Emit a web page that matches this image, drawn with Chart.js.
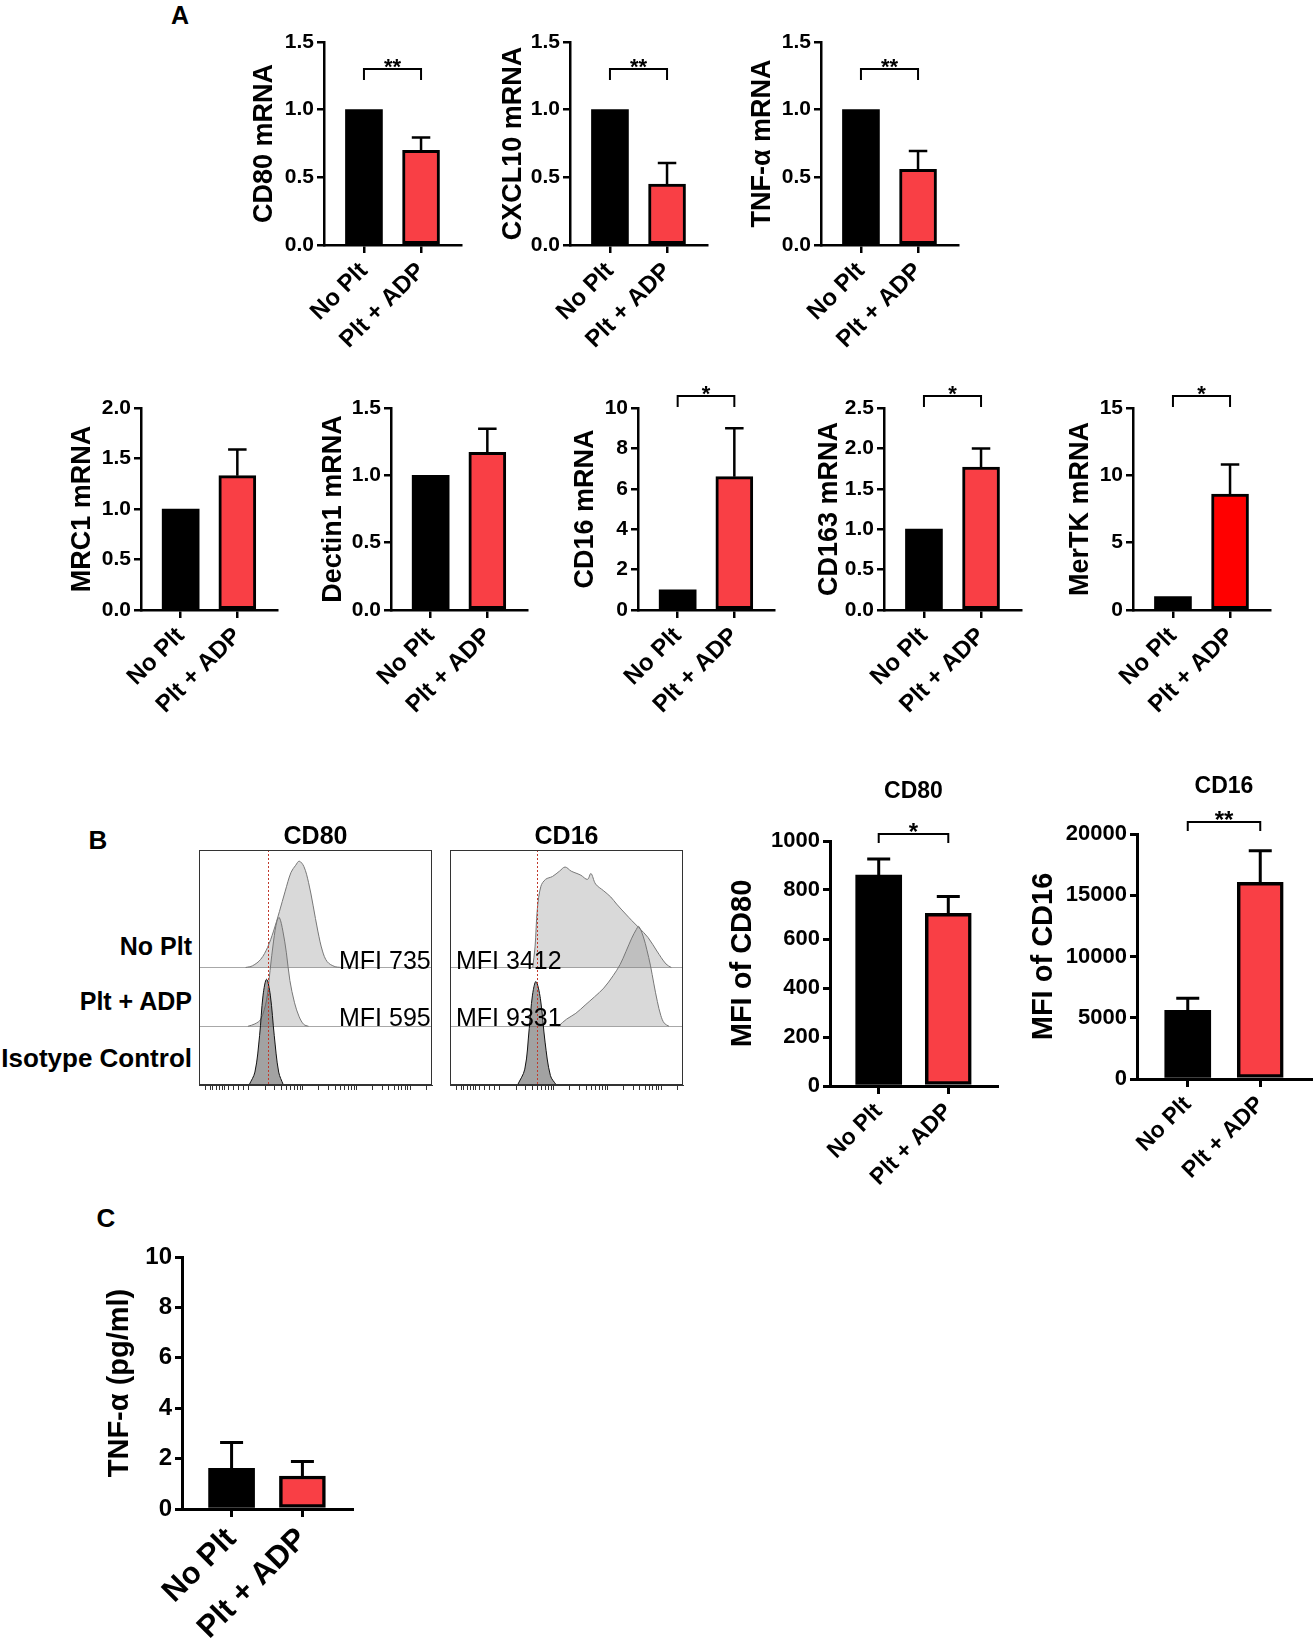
<!DOCTYPE html>
<html>
<head>
<meta charset="utf-8">
<title>Platelet + ADP macrophage markers</title>
<script src="https://cdn.jsdelivr.net/npm/chart.js@4.4.1/dist/chart.umd.min.js"></script>
<style>
body{margin:0;background:#fff;}
#fig{position:relative;width:1313px;height:1644px;overflow:hidden;font-family:'Liberation Sans',Arial,sans-serif;}
#fig canvas{position:absolute;}
.lab{position:absolute;white-space:nowrap;line-height:1;color:#000;}
</style>
</head>
<body>
<div id="fig"></div>
<script>
// ---------- values ----------
var groups = ['No Plt', 'Plt + ADP'];

// A - relative mRNA, No Plt normalised to 1
var geneTitles = ['CD80 mRNA', 'CXCL10 mRNA', 'TNF-α mRNA', 'MRC1 mRNA', 'Dectin1 mRNA', 'CD16 mRNA', 'CD163 mRNA', 'MerTK mRNA'];
var geneNoPlt = [1, 1, 1, 1, 1, 1, 1, 1];
var genePltAdp = [0.70, 0.45, 0.56, 1.33, 1.17, 6.6, 1.77, 8.6];
var genePltAdpSem = [0.095, 0.155, 0.135, 0.26, 0.175, 2.4, 0.23, 2.2];
var geneSig = ['**', '**', '**', '', '', '*', '*', '*'];
var geneYMax = [1.5, 1.5, 1.5, 2.0, 1.5, 10, 2.5, 15];
var geneYStep = [0.5, 0.5, 0.5, 0.5, 0.5, 2, 0.5, 5];

// B - MFI bar charts
var mfiTitles = ['CD80', 'CD16'];
var mfiAxisTitles = ['MFI of CD80', 'MFI of CD16'];
var mfiNoPlt = [861, 5600];
var mfiNoPltSem = [66, 1000];
var mfiPltAdp = [705, 16060];
var mfiPltAdpSem = [68, 2580];
var mfiSig = ['*', '**'];
var mfiYMax = [1000, 20000];
var mfiYStep = [200, 5000];

// B - flow histograms, [position across plot (0-1), height in row units]
var histRows = ['No Plt', 'Plt + ADP', 'Isotype Control'];
var cd80NoPlt = [[0.20,0],[0.23,0.03],[0.265,0.14],[0.294,0.34],[0.32,0.62],[0.345,0.95],[0.37,1.30],[0.395,1.62],[0.415,1.74],[0.43,1.81],[0.45,1.72],[0.47,1.45],[0.49,1.05],[0.51,0.62],[0.53,0.28],[0.55,0.10],[0.58,0.02],[0.61,0]];
var cd80PltAdp = [[0.21,0],[0.24,0.04],[0.265,0.12],[0.29,0.45],[0.305,0.95],[0.32,1.45],[0.335,1.80],[0.345,1.85],[0.36,1.62],[0.375,1.25],[0.39,0.78],[0.41,0.40],[0.43,0.16],[0.45,0.03],[0.47,0]];
var cd80Iso = [[0.215,0],[0.24,0.22],[0.26,0.84],[0.275,1.53],[0.29,1.80],[0.306,1.53],[0.323,0.84],[0.342,0.22],[0.362,0]];
var cd16NoPlt = [[0.355,0],[0.365,0.35],[0.375,1.0],[0.39,1.38],[0.41,1.50],[0.44,1.55],[0.47,1.64],[0.494,1.71],[0.52,1.64],[0.545,1.60],[0.562,1.57],[0.59,1.50],[0.605,1.60],[0.625,1.42],[0.658,1.31],[0.69,1.20],[0.715,1.08],[0.754,0.91],[0.78,0.80],[0.81,0.68],[0.85,0.51],[0.888,0.28],[0.927,0.06],[0.95,0]];
var cd16PltAdp = [[0.465,0],[0.50,0.12],[0.54,0.22],[0.58,0.36],[0.62,0.50],[0.66,0.65],[0.70,0.86],[0.73,1.05],[0.755,1.27],[0.78,1.50],[0.80,1.65],[0.81,1.70],[0.83,1.52],[0.845,1.30],[0.86,1.04],[0.875,0.72],[0.89,0.42],[0.905,0.18],[0.92,0.05],[0.94,0]];
var cd16Iso = [[0.29,0],[0.321,0.27],[0.34,0.96],[0.354,1.53],[0.369,1.76],[0.388,1.47],[0.408,0.73],[0.431,0.16],[0.456,0]];
var histMfi = [[735, 595], [3412, 9331]];
var isoGate = [0.296, 0.372];

// C - secreted TNF-a
var tnfMean = [1.61, 1.31];
var tnfSem = [1.03, 0.57];

// ---------- layout (pixels) ----------
var geneBoxes = [
  {ax: 324, rx: 461, top: 42, bottom: 245, tcx: 264},
  {ax: 570, rx: 707, top: 42, bottom: 245, tcx: 513},
  {ax: 821, rx: 958, top: 42, bottom: 245, tcx: 762},
  {ax: 141, rx: 277, top: 408, bottom: 610, tcx: 82},
  {ax: 391, rx: 527, top: 408, bottom: 610, tcx: 333},
  {ax: 638, rx: 774, top: 408, bottom: 610, tcx: 585},
  {ax: 884, rx: 1021, top: 408, bottom: 610, tcx: 829},
  {ax: 1133, rx: 1270, top: 408, bottom: 610, tcx: 1080}
];
var geneSigOffset = [27, 27, 27, -12, -12, -12, -12, -12];
var mfiBoxes = [
  {ax: 830, rx: 997, top: 841, bottom: 1086, tcx: 743, tcy: 792},
  {ax: 1137, rx: 1311, top: 834, bottom: 1079, tcx: 1044, tcy: 787}
];
var mfiSigOffset = [-7, -12];
var histBoxes = [
  {left: 199, right: 432, top: 849, bottom: 1083, tcy: 837},
  {left: 450, right: 683, top: 849, bottom: 1083, tcy: 837}
];
var tnfBox = {ax: 182, rx: 352, top: 1257, bottom: 1509, tcx: 120};

var RED = '#F93F45';
var fig = document.getElementById('fig');

function addText(txt, x, y, size, weight, align) {
  var d = document.createElement('div');
  d.className = 'lab';
  d.textContent = txt;
  d.style.fontSize = size + 'px';
  d.style.fontWeight = weight;
  d.style.top = y + 'px';
  if (align == 'right') {
    d.style.right = (1313 - x) + 'px';
    d.style.transform = 'translateY(-50%)';
  } else if (align == 'left') {
    d.style.left = x + 'px';
    d.style.transform = 'translateY(-50%)';
  } else {
    d.style.left = x + 'px';
    d.style.transform = 'translate(-50%,-50%)';
  }
  fig.appendChild(d);
}

function addCanvas(left, top, w, h) {
  var c = document.createElement('canvas');
  c.width = Math.round(w);
  c.height = Math.round(h);
  c.style.left = left + 'px';
  c.style.top = top + 'px';
  c.style.width = Math.round(w) + 'px';
  c.style.height = Math.round(h) + 'px';
  fig.appendChild(c);
  return c;
}

// upper SEM whiskers on the bars
function errorBars(sem, cap, lw) {
  return {
    id: 'errorBars',
    afterDatasetsDraw: function(chart) {
      var ctx = chart.ctx, y = chart.scales.y;
      var meta = chart.getDatasetMeta(0);
      ctx.save();
      ctx.strokeStyle = '#000';
      ctx.lineWidth = lw;
      meta.data.forEach(function(bar, i) {
        if (!sem[i]) return;
        var v = chart.data.datasets[0].data[i].y;
        var yt = y.getPixelForValue(v + sem[i]);
        ctx.beginPath();
        ctx.moveTo(bar.x, bar.y);
        ctx.lineTo(bar.x, yt);
        ctx.moveTo(bar.x - cap / 2, yt);
        ctx.lineTo(bar.x + cap / 2, yt);
        ctx.stroke();
      });
      ctx.restore();
    }
  };
}

// significance bracket between the two groups
function bracket(text, offset, leg, size) {
  return {
    id: 'bracket',
    afterDraw: function(chart) {
      if (!text) return;
      var ctx = chart.ctx, x = chart.scales.x;
      var x1 = x.getPixelForValue(1), x2 = x.getPixelForValue(2);
      var yb = chart.chartArea.top + offset;
      ctx.save();
      ctx.strokeStyle = '#000';
      ctx.lineWidth = 2;
      ctx.beginPath();
      ctx.moveTo(x1, yb + leg);
      ctx.lineTo(x1, yb);
      ctx.lineTo(x2, yb);
      ctx.lineTo(x2, yb + leg);
      ctx.stroke();
      ctx.fillStyle = '#000';
      ctx.font = 'bold ' + size + 'px "Liberation Sans", Arial, sans-serif';
      ctx.textAlign = 'center';
      ctx.textBaseline = 'alphabetic';
      ctx.fillText(text, (x1 + x2) / 2, yb - 8 + 0.57 * size);
      ctx.restore();
    }
  };
}

function barChart(o) {
  var b = o.box;
  var lh = o.yTitleSize * 1.2;
  var left = Math.round(b.tcx - lh / 2);
  var yW = b.ax - left;
  var padR = 4;
  var top, padTop = 0, title = {display: false};
  if (o.title) {
    var tl = o.titleSize * 1.2;
    top = Math.round(b.tcy - tl / 2);
    title = {
      display: true, text: o.title, fullSize: false, color: '#000',
      font: {size: o.titleSize, weight: 'bold', lineHeight: 1.2},
      padding: {top: 0, bottom: b.top - top - tl}
    };
  } else {
    top = Math.round(b.top - o.padTop);
    padTop = b.top - top;
  }
  var cv = addCanvas(left, top, b.rx - left + padR, b.bottom - top + o.xH);
  return new Chart(cv, {
    type: 'bar',
    data: {
      datasets: [{
        data: [{x: 1, y: o.values[0]}, {x: 2, y: o.values[1]}],
        backgroundColor: ['#000', o.red || RED],
        borderColor: '#000',
        borderWidth: [0, o.barBorder],
        borderSkipped: false,
        barThickness: o.barW
      }]
    },
    options: {
      responsive: false,
      animation: false,
      layout: {padding: {left: 0, right: padR, top: padTop, bottom: 0}},
      plugins: {legend: {display: false}, tooltip: {enabled: false}, title: title},
      scales: {
        x: {
          type: 'linear', min: 0.3, max: 2.7, offset: false,
          afterBuildTicks: function(s) { s.ticks = [{value: 1}, {value: 2}]; },
          afterFit: function(s) { s.height = o.xH; },
          border: {display: true, color: '#000', width: o.axisW},
          grid: {offset: false, drawOnChartArea: false, drawTicks: true, tickLength: 8, color: '#000', lineWidth: o.axisW},
          ticks: {
            autoSkip: false, minRotation: 45, maxRotation: 45, padding: 4, color: '#000',
            font: {size: o.xSize, weight: 'bold'},
            callback: function(v) { return groups[v - 1]; }
          }
        },
        y: {
          min: 0, max: o.yMax,
          afterFit: function(s) { s.width = yW; },
          border: {display: true, color: '#000', width: o.axisW},
          grid: {drawOnChartArea: false, drawTicks: true, tickLength: 7, color: '#000', lineWidth: o.axisW},
          ticks: {
            stepSize: o.yStep, padding: 3, color: '#000',
            font: {size: o.tickSize, weight: 'bold'},
            callback: function(v) { return o.yStep < 1 ? v.toFixed(1) : String(v); }
          },
          title: {display: true, text: o.yTitle, color: '#000', padding: 0,
            font: {size: o.yTitleSize, weight: 'bold', lineHeight: 1.2}}
        }
      }
    },
    plugins: [errorBars(o.sem, o.barW * 0.5, o.axisW), bracket(o.sig, o.sigOffset, o.sigLeg, o.sigSize)]
  });
}

// log-style tick marks along the bottom of the flow plots
var histTicks = [0.03, 0.05, 0.06, 0.075, 0.09, 0.1, 0.11, 0.125, 0.15, 0.17, 0.19];
[0.214, 0.445, 0.676].forEach(function(d) {
  for (var k = 1; k < 10; k++) histTicks.push(d + Math.log10(k) * 0.231);
});
histTicks.push(0.907, 0.977);

function frame() {
  return {
    id: 'frame',
    afterDraw: function(chart) {
      var a = chart.chartArea, ctx = chart.ctx;
      ctx.save();
      ctx.strokeStyle = '#333';
      ctx.lineWidth = 1;
      ctx.strokeRect(a.left + 0.5, a.top + 0.5, a.right - a.left - 1, a.bottom - a.top - 1);
      ctx.restore();
    }
  };
}

function gateLine(gx) {
  return {
    id: 'gate',
    afterDatasetsDraw: function(chart) {
      var a = chart.chartArea, ctx = chart.ctx;
      var px = Math.round(chart.scales.x.getPixelForValue(gx)) + 0.5;
      ctx.save();
      ctx.strokeStyle = '#c0392b';
      ctx.lineWidth = 1;
      ctx.setLineDash([2, 2]);
      ctx.beginPath();
      ctx.moveTo(px, a.top);
      ctx.lineTo(px, a.bottom);
      ctx.stroke();
      ctx.restore();
    }
  };
}

function histChart(box, title, rows, gate) {
  var ts = 25;
  var top = Math.round(box.tcy - ts / 2);
  var cv = addCanvas(box.left - 1, top, box.right - box.left + 3, box.bottom - top + 12);
  // rows drawn bottom-up: isotype on top, then Plt + ADP, then No Plt
  var offsets = [2, 1, 0];
  var sets = [2, 1, 0].map(function(r) {
    return {
      data: rows[r].map(function(p) { return {x: p[0], y: p[1] + offsets[r]}; }),
      fill: {value: offsets[r]},
      backgroundColor: r == 2 ? 'rgba(100,100,100,0.6)' : 'rgba(128,128,128,0.3)',
      borderColor: r == 2 ? '#111' : '#777',
      borderWidth: 1,
      pointRadius: 0,
      tension: 0.35
    };
  });
  return new Chart(cv, {
    type: 'line',
    data: {datasets: sets},
    options: {
      responsive: false,
      animation: false,
      layout: {padding: {left: 1, right: 2, top: 0, bottom: 0}},
      plugins: {
        legend: {display: false}, tooltip: {enabled: false},
        title: {display: true, text: title, color: '#000', fullSize: false,
          font: {size: ts, weight: 'bold', lineHeight: 1},
          padding: {top: 0, bottom: Math.max(0, box.top - top - ts)}}
      },
      scales: {
        x: {
          type: 'linear', min: 0, max: 1,
          afterBuildTicks: function(s) { s.ticks = histTicks.map(function(v) { return {value: v}; }); },
          afterFit: function(s) { s.height = 10; },
          border: {display: true, color: '#333', width: 1},
          grid: {drawOnChartArea: false, drawTicks: true, tickLength: 5, color: '#333', lineWidth: 1},
          ticks: {display: false}
        },
        y: {
          min: 0, max: 4,
          afterBuildTicks: function(s) { s.ticks = [{value: 1}, {value: 2}]; },
          afterFit: function(s) { s.width = 0; },
          border: {display: false},
          grid: {drawTicks: false, color: '#a8a8a8', lineWidth: 1},
          ticks: {display: false}
        }
      }
    },
    plugins: [frame(), gateLine(gate)]
  });
}

Chart.defaults.font.family = "'Liberation Sans', Arial, sans-serif";
Chart.defaults.color = '#000';

// ---------- panel A ----------
for (var i = 0; i < geneTitles.length; i++) {
  barChart({
    box: geneBoxes[i], padTop: 36, xH: 116,
    values: [geneNoPlt[i], genePltAdp[i]], sem: [0, genePltAdpSem[i]],
    red: i == 7 ? '#FF0000' : RED,
    yMax: geneYMax[i], yStep: geneYStep[i], yTitle: geneTitles[i],
    yTitleSize: 27, tickSize: 21, xSize: 24, axisW: 2.5, barW: 37, barBorder: 3,
    sig: geneSig[i], sigOffset: geneSigOffset[i], sigLeg: 11, sigSize: 22
  });
}
addText('A', 180, 15, 25, 'bold', 'center');

// ---------- panel B ----------
addText('B', 98, 840, 26, 'bold', 'center');
var hists = [[cd80NoPlt, cd80PltAdp, cd80Iso], [cd16NoPlt, cd16PltAdp, cd16Iso]];
for (var h = 0; h < 2; h++) {
  histChart(histBoxes[h], mfiTitles[h], hists[h], isoGate[h]);
}
addText(histRows[0], 192, 946, 25, 'bold', 'right');
addText(histRows[1], 192, 1001, 25, 'bold', 'right');
addText(histRows[2], 192, 1058, 26, 'bold', 'right');
addText('MFI ' + histMfi[0][0], 339, 960, 25, 'normal', 'left');
addText('MFI ' + histMfi[0][1], 339, 1017, 25, 'normal', 'left');
addText('MFI ' + histMfi[1][0], 456, 960, 25, 'normal', 'left');
addText('MFI ' + histMfi[1][1], 456, 1017, 25, 'normal', 'left');

for (var m = 0; m < 2; m++) {
  barChart({
    box: mfiBoxes[m], xH: 116, title: mfiTitles[m], titleSize: 23,
    values: [mfiNoPlt[m], mfiPltAdp[m]], sem: [mfiNoPltSem[m], mfiPltAdpSem[m]],
    yMax: mfiYMax[m], yStep: mfiYStep[m], yTitle: mfiAxisTitles[m],
    yTitleSize: 29, tickSize: 22, xSize: 23, axisW: 3, barW: 46, barBorder: 3.5,
    sig: mfiSig[m], sigOffset: mfiSigOffset[m], sigLeg: 9, sigSize: 24
  });
}

// ---------- panel C ----------
addText('C', 106, 1218, 26, 'bold', 'center');
barChart({
  box: tnfBox, padTop: 30, xH: 140,
  values: tnfMean, sem: tnfSem,
  yMax: 10, yStep: 2, yTitle: 'TNF-α (pg/ml)',
  yTitleSize: 29, tickSize: 24, xSize: 31, axisW: 3, barW: 46, barBorder: 3.5,
  sig: '', sigOffset: 0, sigLeg: 0, sigSize: 22
});
</script>
</body>
</html>
